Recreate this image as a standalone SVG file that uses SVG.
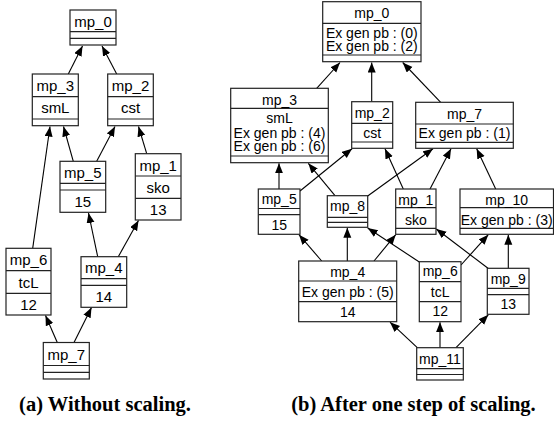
<svg xmlns="http://www.w3.org/2000/svg" width="554" height="429" viewBox="0 0 554 429">
<style>
.b{fill:#fff;stroke:#222;stroke-width:1.2}
.d{stroke:#222;stroke-width:1.2;fill:none}
.e{stroke:#000;stroke-width:1.1;fill:none;marker-end:url(#ah)}
.l{font-family:"Liberation Sans",Arial,sans-serif;font-size:15px;text-anchor:middle;fill:#000}
.r{font-family:"Liberation Sans",Arial,sans-serif;font-size:14px;text-anchor:middle;fill:#000}
.c{font-family:"Liberation Serif","Times New Roman",serif;font-size:20.5px;font-weight:bold;text-anchor:middle;fill:#000}
</style>
<defs>
<marker id="ah" markerUnits="userSpaceOnUse" markerWidth="11" markerHeight="9" refX="10" refY="4" orient="auto">
<path d="M0,0 L10,4 L0,8 z" fill="#000"/>
</marker>
</defs>
<g id="connectors">
<path class="e" d="M68.3,74 L82.5,46"/>
<path class="e" d="M116.7,74 L102,46"/>
<path class="e" d="M73.3,161.3 L63.5,126.5"/>
<path class="e" d="M96.7,161.3 L115,126.5"/>
<path class="e" d="M146.7,153.7 L138.5,126.5"/>
<path class="e" d="M32.7,248.3 L50,126.5"/>
<path class="e" d="M97.7,256.7 L88.5,213"/>
<path class="e" d="M118.3,256.7 L138.5,220.5"/>
<path class="e" d="M57.3,342.5 L45.5,315.5"/>
<path class="e" d="M74,342.5 L91.5,307.5"/>
<path class="e" d="M316.7,88.3 L340,62.5"/>
<path class="e" d="M371.7,101.7 L371.7,62.5"/>
<path class="e" d="M440.7,102.3 L402.7,62.5"/>
<path class="e" d="M279,189 L279,163.3"/>
<path class="e" d="M300,191 L352,148.7"/>
<path class="e" d="M335,195.7 L308.3,163.3"/>
<path class="e" d="M367.7,196 L433,148.7"/>
<path class="e" d="M403.3,189 L385,148.7"/>
<path class="e" d="M430,189 L451,148.7"/>
<path class="e" d="M495.7,189 L476.7,148.7"/>
<path class="e" d="M321.7,261 L299,234.7"/>
<path class="e" d="M347.3,261 L347.3,227.8"/>
<path class="e" d="M374,261 L395.7,234.7"/>
<path class="e" d="M419.3,262 L367.7,228"/>
<path class="e" d="M488,268.3 L436.3,229"/>
<path class="e" d="M461,265 L488.3,234.7"/>
<path class="e" d="M508.3,268.3 L508.3,234.7"/>
<path class="e" d="M417.3,347.7 L390,322.2"/>
<path class="e" d="M440,347.7 L440,322.2"/>
<path class="e" d="M456,347.7 L488.3,314.8"/>
</g>
<!-- left graph -->
<g id="a_mp_0"><rect class="b" x="70" y="10" width="46" height="35"/><path class="d" d="M70,31.7H116M70,38.3H116"/><text class="l" x="93" y="26.5">mp_0</text></g>
<g id="a_mp_3"><rect class="b" x="32.3" y="74" width="46" height="51.7"/><path class="d" d="M32.3,96.7H78.3M32.3,119H78.3"/><text class="l" x="55.3" y="91">mp_3</text><text class="l" x="55.3" y="113">smL</text></g>
<g id="a_mp_2"><rect class="b" x="107.7" y="74" width="45.6" height="51.7"/><path class="d" d="M107.7,96.7H153.3M107.7,119H153.3"/><text class="l" x="130.5" y="91">mp_2</text><text class="l" x="130.5" y="113">cst</text></g>
<g id="a_mp_5"><rect class="b" x="60" y="161.3" width="45.7" height="51"/><path class="d" d="M60,183.3H105.7M60,190H105.7"/><text class="l" x="82.8" y="178">mp_5</text><text class="l" x="82.8" y="206.5">15</text></g>
<g id="a_mp_1"><rect class="b" x="135.3" y="153.7" width="45.7" height="66.3"/><path class="d" d="M135.3,176H181M135.3,198.3H181"/><text class="l" x="158.2" y="170.5">mp_1</text><text class="l" x="158.2" y="192.5">sko</text><text class="l" x="158.2" y="214.5">13</text></g>
<g id="a_mp_6"><rect class="b" x="6" y="248.3" width="45" height="66.7"/><path class="d" d="M6,270.7H51M6,293.3H51"/><text class="l" x="28.5" y="265">mp_6</text><text class="l" x="28.5" y="287.5">tcL</text><text class="l" x="28.5" y="309.5">12</text></g>
<g id="a_mp_4"><rect class="b" x="81" y="256.7" width="45.7" height="50.6"/><path class="d" d="M81,278.7H126.7M81,285.3H126.7"/><text class="l" x="103.8" y="273">mp_4</text><text class="l" x="103.8" y="301.5">14</text></g>
<g id="a_mp_7"><rect class="b" x="43.3" y="342.5" width="46" height="36.5"/><path class="d" d="M43.3,365.5H89.3M43.3,372.3H89.3"/><text class="l" x="66.3" y="359.5">mp_7</text></g>
<!-- right graph -->
<g id="b_mp_0"><rect class="b" x="322.7" y="1.7" width="98.3" height="60"/><path class="d" d="M322.7,23.3H421M322.7,55H421"/><text class="r" x="371.8" y="18">mp_0</text><text class="r" x="371.8" y="37.5">Ex gen pb : (0)</text><text class="r" x="371.8" y="50.5">Ex gen pb : (2)</text></g>
<g id="b_mp_3"><rect class="b" x="230.7" y="88.3" width="97.6" height="74.4"/><path class="d" d="M230.7,108.3H328.3M230.7,156H328.3"/><text class="r" x="279.5" y="104.5">mp_3</text><text class="r" x="279.5" y="122.5">smL</text><text class="r" x="279.5" y="138.3">Ex gen pb : (4)</text><text class="r" x="279.5" y="151.3">Ex gen pb : (6)</text></g>
<g id="b_mp_2"><rect class="b" x="351.7" y="101.7" width="41" height="46.6"/><path class="d" d="M351.7,123.3H392.7M351.7,142H392.7"/><text class="r" x="372.2" y="118">mp_2</text><text class="r" x="372.2" y="137.5">cst</text></g>
<g id="b_mp_7"><rect class="b" x="415.7" y="102.3" width="97.6" height="46"/><path class="d" d="M415.7,124H513.3M415.7,142.3H513.3"/><text class="r" x="464.5" y="118.5">mp_7</text><text class="r" x="464.5" y="138.3">Ex gen pb : (1)</text></g>
<g id="b_mp_1"><rect class="b" x="395.7" y="189" width="40.3" height="45.3"/><path class="d" d="M395.7,207.7H436M395.7,228.3H436"/><text class="r" x="415.8" y="204.5">mp_1</text><text class="r" x="415.8" y="224.5">sko</text></g>
<g id="b_mp_10"><rect class="b" x="460" y="189" width="93.5" height="45.3"/><path class="d" d="M460,207.7H553.5M460,228.3H553.5"/><text class="r" x="506.7" y="204.5">mp_10</text><text class="r" x="506.7" y="224.5">Ex gen pb : (3)</text></g>
<g id="b_mp_5"><rect class="b" x="258.3" y="189" width="41.7" height="45.3"/><path class="d" d="M258.3,208.5H300M258.3,214.7H300"/><text class="r" x="279.2" y="203.5">mp_5</text><text class="r" x="279.2" y="229.5">15</text></g>
<g id="b_mp_8"><rect class="b" x="327.3" y="195.7" width="40.4" height="31.6"/><path class="d" d="M327.3,217.3H367.7M327.3,222.3H367.7"/><text class="r" x="347.5" y="210.5">mp_8</text></g>
<g id="b_mp_4"><rect class="b" x="298.7" y="261" width="98" height="60.7"/><path class="d" d="M298.7,281H396.7M298.7,301.7H396.7"/><text class="r" x="347.7" y="276.5">mp_4</text><text class="r" x="347.7" y="296.5">Ex gen pb : (5)</text><text class="r" x="347.7" y="316.5">14</text></g>
<g id="b_mp_6"><rect class="b" x="419.3" y="261.7" width="41.7" height="60"/><path class="d" d="M419.3,281.7H461M419.3,301.7H461"/><text class="r" x="440.2" y="276">mp_6</text><text class="r" x="440.2" y="296.5">tcL</text><text class="r" x="440.2" y="316.3">12</text></g>
<g id="b_mp_9"><rect class="b" x="487.3" y="268.3" width="41.7" height="46"/><path class="d" d="M487.3,288.3H529M487.3,294.7H529"/><text class="r" x="508.2" y="283.5">mp_9</text><text class="r" x="508.2" y="309">13</text></g>
<g id="b_mp_11"><rect class="b" x="416.7" y="347.7" width="46.6" height="32.3"/><path class="d" d="M416.7,368.7H463.3M416.7,374.5H463.3"/><text class="r" x="440" y="364">mp_11</text></g>
<text class="c" x="105" y="411">(a) Without scaling.</text>
<text class="c" x="413.5" y="411">(b) After one step of scaling.</text>
</svg>
